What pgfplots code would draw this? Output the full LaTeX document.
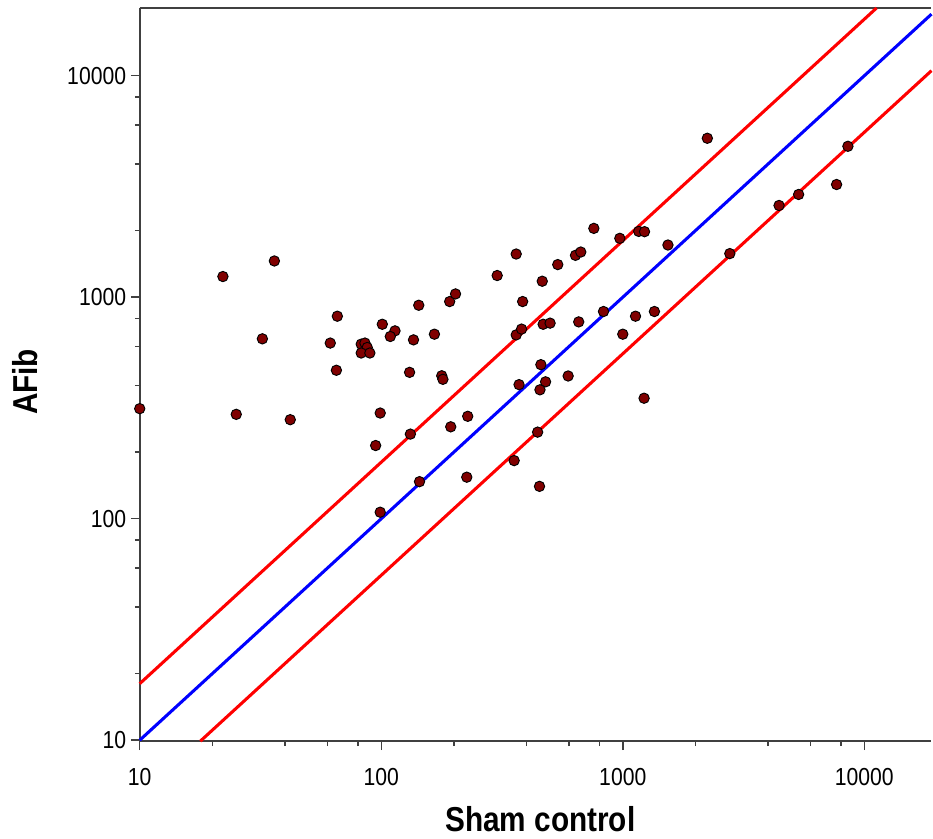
\documentclass[border=0pt]{standalone}
\usepackage{fontspec}
\setmainfont[FakeStretch=0.86]{Liberation Sans}
\usepackage{pgfplots}
\pgfplotsset{compat=1.18}
\definecolor{dotred}{HTML}{800000}
\definecolor{axisgray}{HTML}{404040}

\begin{document}
\begin{tikzpicture}
\begin{axis}[
  xmode=log, ymode=log,
  scale only axis, width=595pt, height=551pt,
  xmin=10, xmax=18970, ymin=9.9, ymax=20230,
  axis x line=box, axis y line=left,
  x axis line style={-}, y axis line style={-},
  axis line style={axisgray, line width=1.4pt},
  every tick/.style={axisgray, line width=1.1pt},
  tick align=outside, xtick pos=bottom, ytick pos=left,
  major tick length=6.75pt, minor tick length=3.75pt,
  xtick={10,100,1000,10000}, xticklabels={10,100,1000,10000},
  ytick={10,100,1000,10000}, yticklabels={10,100,1000,10000},
  minor xtick={20,40,60,80,200,400,600,800,2000,4000,6000,8000},
  minor ytick={20,40,60,80,200,400,600,800,2000,4000,6000,8000},
  tick label style={font=\fontsize{18.5}{21}\selectfont},
  xticklabel style={yshift=-10pt},
  xlabel={Sham control}, ylabel={AFib},
  label style={font=\fontsize{26}{30}\selectfont\bfseries},
  xlabel style={at={(axis description cs:0.506,-0.106)}, anchor=center},
  ylabel style={at={(axis description cs:-0.145,0.49)}, anchor=center, rotate=0},
  clip=false,
]
% identity line and the two bounds
\addplot[blue, line width=2.3pt] coordinates {(10,10) (18970,18970)};
\addplot[red, line width=2.3pt] coordinates {(10,18) (11239,20230)};
\addplot[red, line width=2.3pt] coordinates {(17.82,9.9) (18970,10539)};

\addplot[only marks, mark=*, mark size=3.9pt,
  mark options={fill=dotred, draw=black, line width=0.7pt}] coordinates {
  (10,314) (22.1,1240) (36.1,1458) (32.2,649) (25.1,296) (42.0,280)
  (65.8,821) (61.5,621) (65.2,468) (82.6,614) (85.6,621) (87.5,593)
  (82.6,560) (89.7,560) (101,755) (114,705) (109,665) (136,642)
  (143,920) (166,681) (192,956) (203,1035) (131,458) (178,442)
  (180,426) (99,300) (94.8,214) (132,241) (194,260) (228,290)
  (144,147) (226,154) (759,2046) (972,1845) (1164,1983) (1230,1977)
  (1538,1721) (362,1567) (637,1546) (670,1600) (538,1404) (302,1253)
  (464,1181) (385,956) (362,676) (381,718) (468,755) (500,764)
  (657,774) (832,862) (1129,821) (1352,862) (1000,681) (458,496)
  (372,403) (479,415) (454,382) (594,441) (1225,350) (444,246)
  (355,183) (452,140) (99,107) (2239,5220) (8551,4803) (7677,3228)
  (4436,2596) (5346,2911) (2774,1574)
};
\path (rel axis cs:0,0) ++(-105pt,-73.5pt);
\path (rel axis cs:1,1) ++(0pt,6pt);
\end{axis}
\end{tikzpicture}
\end{document}
